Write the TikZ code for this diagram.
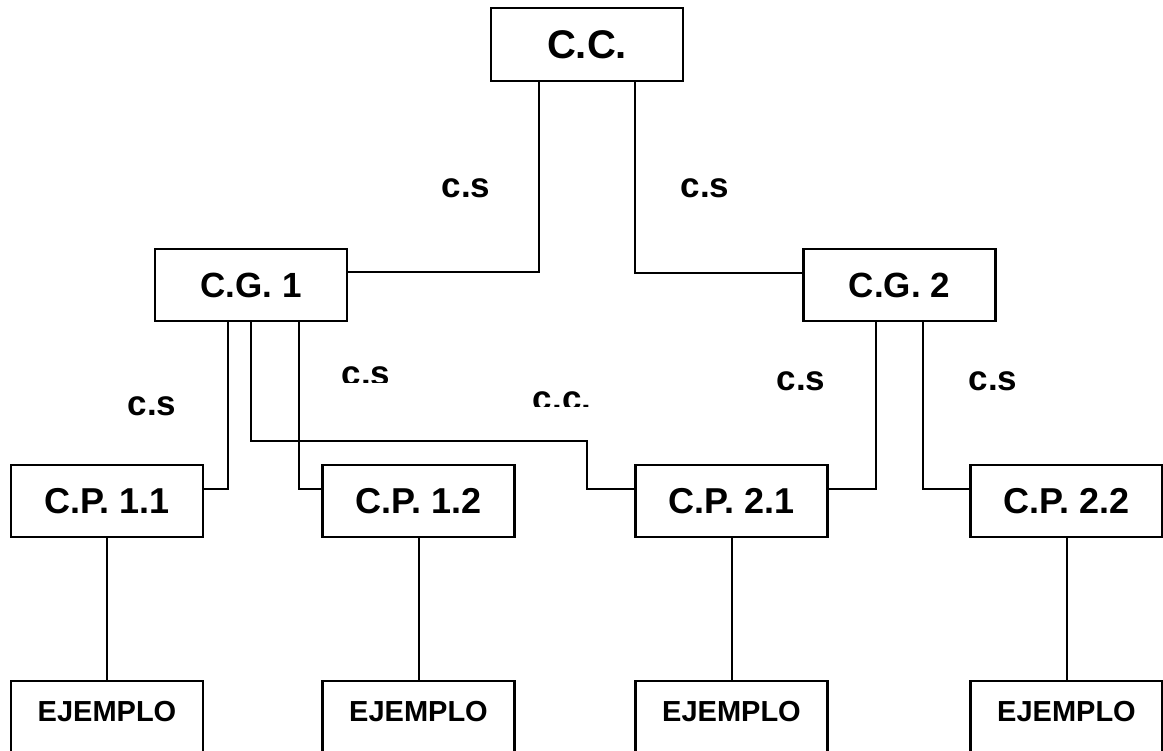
\documentclass[tikz,border=0pt]{standalone}
\usepackage{fontspec}
\setmainfont{Liberation Sans}
\begin{document}
\begin{tikzpicture}[x=1pt,y=-1pt,
  box/.style={draw=black,line width=2.2pt,fill=white,rectangle,inner sep=0pt,
    minimum width=192pt,minimum height=72pt,font=\bfseries\fontsize{36}{36}\selectfont},
  bigbox/.style={box,minimum height=73pt,font=\bfseries\fontsize{40}{40}\selectfont},
  gbox/.style={box,font=\bfseries\fontsize{35}{35}\selectfont},
  ejbox/.style={draw=black,line width=2.2pt,rectangle,anchor=north,inner xsep=0pt,inner ysep=0pt,
    minimum width=192pt,text height=40pt,text depth=60pt,font=\bfseries\fontsize{29}{29}\selectfont},
  lab/.style={inner sep=0pt,font=\bfseries\fontsize{35}{35}\selectfont},
  conn/.style={draw=black,line width=2pt}]
\clip (0,0) rectangle (1163,751);
\fill[white] (0,0) rectangle (1163,751);
% boxes
\node[bigbox] (cc) at (587,44.5) {C.C.};
\node[gbox] (cg1) at (251,285) {C.G. 1};
\node[gbox] (cg2) at (899.5,285) {C.G. 2};
\node[box] (cp11) at (107,501) {C.P. 1.1};
\node[box] (cp12) at (418.5,501) {C.P. 1.2};
\node[box] (cp21) at (731.5,501) {C.P. 2.1};
\node[box] (cp22) at (1066.5,501) {C.P. 2.2};
\node[ejbox] (ej1) at (107,680) {EJEMPLO};
\node[ejbox] (ej2) at (418.5,680) {EJEMPLO};
\node[ejbox] (ej3) at (731.5,680) {EJEMPLO};
\node[ejbox] (ej4) at (1066.5,680) {EJEMPLO};
\coordinate (k) at (587,441);
% connectors
\draw[conn] ([xshift=-48pt]cc.south) |- ([yshift=13pt]cg1.east);
\draw[conn] ([xshift=48pt]cc.south) |- ([yshift=12pt]cg2.west);
\draw[conn] ([xshift=-23pt]cg1.south) |- ([yshift=12pt]cp11.east);
\draw[conn] ([xshift=48pt]cg1.south) |- ([yshift=12pt]cp12.west);
\draw[conn] (cg1.south) |- (k) |- ([yshift=12pt]cp21.west);
\draw[conn] ([xshift=-23.5pt]cg2.south) |- ([yshift=12pt]cp21.east);
\draw[conn] ([xshift=23.5pt]cg2.south) |- ([yshift=12pt]cp22.west);
\draw[conn] (cp11.south) -- (ej1.north);
\draw[conn] (cp12.south) -- (ej2.north);
\draw[conn] (cp21.south) -- (ej3.north);
\draw[conn] (cp22.south) -- (ej4.north);
% labels
\node[lab] (l1) at (466,188) {c.s};
\node[lab] (l2) at (705,188) {c.s};
\node[lab] (l3) at (152,406) {c.s};
\node[lab] (l6) at (801,381) {c.s};
\node[lab] (l7) at (993,381) {c.s};
\begin{scope}
\clip (320,350) rectangle (420,383);
\node[lab] (l4) at (366,376.5) {c.s};
\end{scope}
\begin{scope}
\clip (520,380) rectangle (610,407);
\node[lab] (l5) at (562,401.5) {c.c.};
\end{scope}
\end{tikzpicture}
\end{document}
